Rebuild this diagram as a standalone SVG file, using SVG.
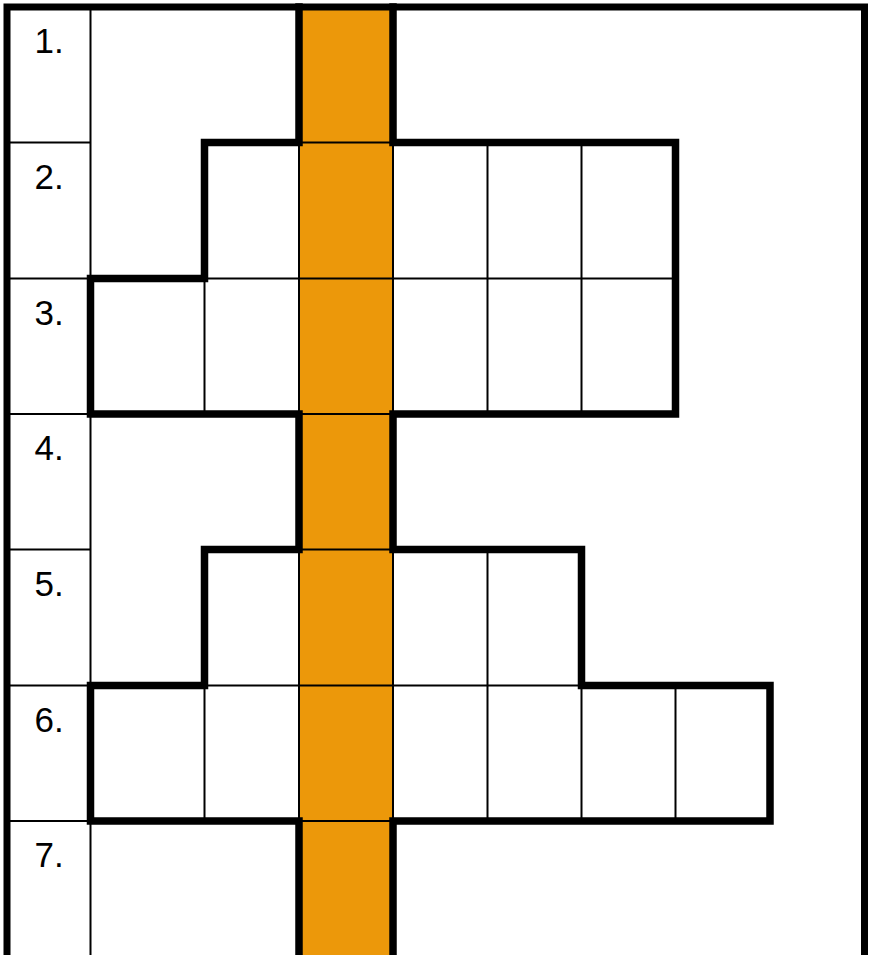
<svg xmlns="http://www.w3.org/2000/svg" width="872" height="955" viewBox="0 0 872 955">
<style>
.thin{stroke:#000;stroke-width:2;fill:none}
.thick{stroke:#000;stroke-width:7.5;fill:none;stroke-linejoin:miter;stroke-linecap:square}
.lbl{font-family:"Liberation Sans",Arial,sans-serif;font-size:35px;fill:#000}
</style>
<rect width="872" height="955" fill="#fff"/>
<g id="solution-column">
<rect x="299" y="7" width="94" height="955" fill="#EC980A"/>
</g>
<g id="thin-grid">
<path class="thin" d="M90.5,7 V960 M7,142.5 H90.5 M7,278.5 H90.5 M7,414 H90.5 M7,549.5 H90.5 M7,685.5 H90.5 M7,821 H90.5"/>
<path class="thin" d="M299,142.5 H393 M204.5,278.5 H675.5 M299,414 H393 M299,549.5 H393 M204.5,685.5 H581.5 M299,821 H393"/>
<path class="thin" d="M299,142.5 V278.5 M393,142.5 V278.5 M487.5,142.5 V278.5 M581.5,142.5 V278.5"/>
<path class="thin" d="M204.5,278.5 V414 M299,278.5 V414 M393,278.5 V414 M487.5,278.5 V414 M581.5,278.5 V414"/>
<path class="thin" d="M299,549.5 V685.5 M393,549.5 V685.5 M487.5,549.5 V685.5"/>
<path class="thin" d="M204.5,685.5 V821 M299,685.5 V821 M393,685.5 V821 M487.5,685.5 V821 M581.5,685.5 V821 M675.5,685.5 V821"/>
</g>
<g id="outline">
<path class="thick" d="M299,7 V142.5 H204.5 V278.5 H90.5 V414 H299 V549.5 H204.5 V685.5 H90.5 V821 H299 V965"/>
<path class="thick" d="M393,7 V142.5 H675.5 V414 H393 V549.5 H581.5 V685.5 H770 V821 H393 V965"/>
</g>
<g id="frame">
<rect x="7" y="7" width="857.5" height="960" fill="none" stroke="#000" stroke-width="7"/>
</g>
<g id="labels">
<text class="lbl" x="34.5" y="53">1.</text>
<text class="lbl" x="34.5" y="188.5">2.</text>
<text class="lbl" x="34.5" y="324.5">3.</text>
<text class="lbl" x="34.5" y="460">4.</text>
<text class="lbl" x="34.5" y="595.5">5.</text>
<text class="lbl" x="34.5" y="731.5">6.</text>
<text class="lbl" x="34.5" y="867">7.</text>
</g>
</svg>
